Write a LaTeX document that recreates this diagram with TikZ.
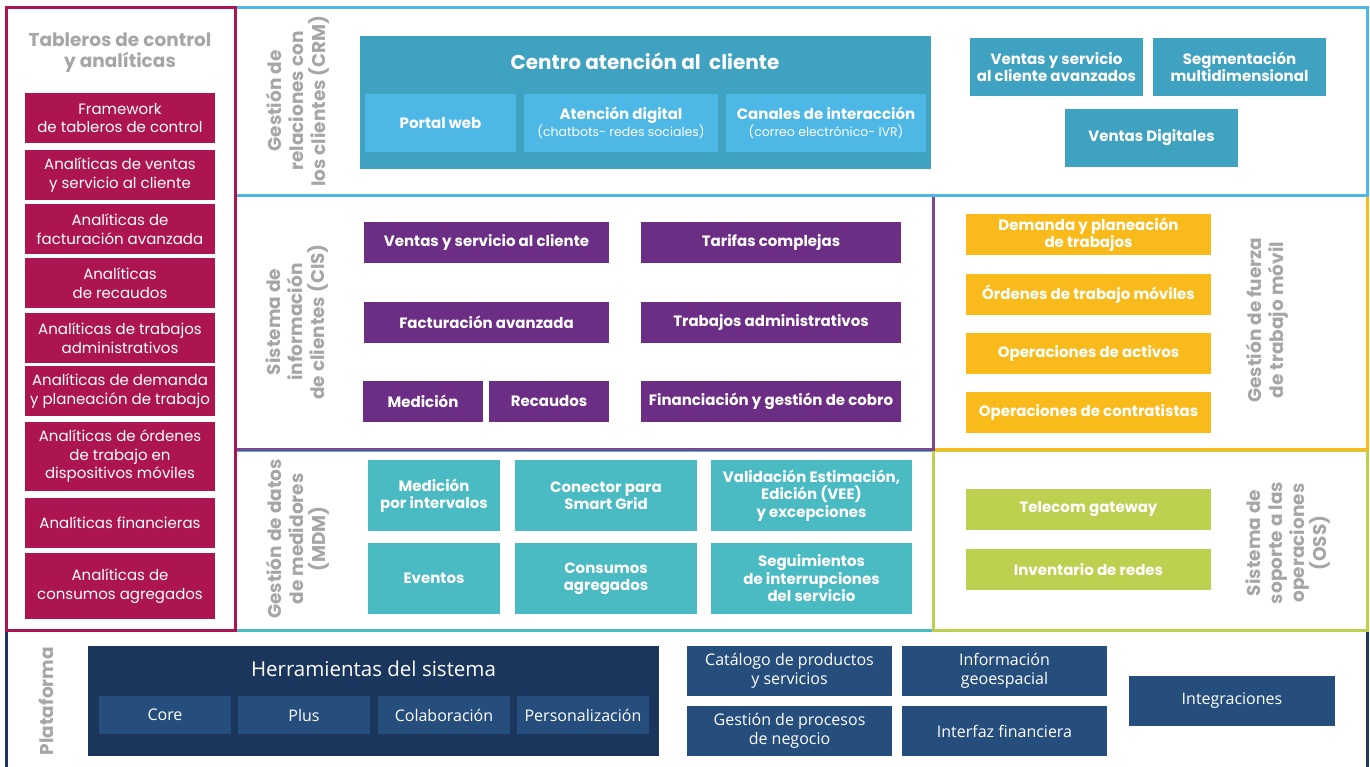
\documentclass[tikz,border=0pt]{standalone}
\usepackage{fontspec}
\setmainfont{Poppins}
\newfontfamily\platfont{Open Sans}
\definecolor{mag}{HTML}{AD1452}
\definecolor{lblgray}{HTML}{A6A6A6}
\definecolor{crmline}{HTML}{4DB8E6}
\definecolor{crmdark}{HTML}{3FA2C0}
\definecolor{crmlight}{HTML}{4DB8E6}
\definecolor{cisline}{HTML}{7B4595}
\definecolor{cisbox}{HTML}{6C2D84}
\definecolor{yel}{HTML}{F9BA1B}
\definecolor{teal}{HTML}{4ABBC3}
\definecolor{grn}{HTML}{BDD04F}
\definecolor{navyline}{HTML}{1C3860}
\definecolor{navydark}{HTML}{1B365D}
\definecolor{navybox}{HTML}{254E7C}
\tikzset{
  base/.style={inner sep=0pt, outer sep=0pt, align=center, text=white},
  magbox/.style={base, fill=mag, font=\fontsize{15}{18.5}\selectfont},
  bbold/.style={base, font=\fontsize{15}{17.5}\selectfont\bfseries},
  crmbox/.style={bbold, fill=crmdark},
  crmsub/.style={bbold, fill=crmlight},
  cisb/.style={bbold, fill=cisbox},
  yelb/.style={bbold, fill=yel},
  tealb/.style={bbold, fill=teal},
  grnb/.style={bbold, fill=grn},
  navyb/.style={base, fill=navybox, font=\platfont\fontsize{16}{19}\selectfont},
  sidelbl/.style={inner sep=0pt, align=center, text=lblgray, rotate=90, font=\fontsize{18.5}{22}\selectfont\bfseries},
  panel/.style={line width=3pt},
}
\newcommand\mybox[7]{\node[#1, minimum width={(#5-#3)*1pt}, minimum height={(#6-#4)*1pt}] (#2) at ({(#3+#5)/2},{(#4+#6)/2}) {#7};}
\begin{document}
\begin{tikzpicture}[x=1pt,y=-1pt]
\useasboundingbox[fill=white] (0,0) rectangle (1370,767);
% panels
\draw[panel, navyline] (6,631) -- (6,770);
\draw[panel, navyline] (1367,631) -- (1367,770);
\draw[panel, teal] (235,450) rectangle (933,630);
\draw[panel, grn] (933,450) rectangle (1367,630);
\draw[panel, yel] (933,196) rectangle (1367,449);
\draw[panel, cisline] (235,196) rectangle (933,449);
\draw[panel, crmline] (235,8) rectangle (1367,196);
\draw[panel, mag] (6,8) rectangle (235,630);

% left panel
\node[inner sep=0pt, align=center, text=lblgray, font=\fontsize{18.5}{21.5}\selectfont\bfseries] (tabt) at (120,52.5) {Tableros de control\\y analíticas};
\mybox{magbox}{a1}{25}{93}{215}{143}{Framework\\de tableros de control}
\mybox{magbox}{a2}{25}{150}{215}{200}{Analíticas de ventas\\y servicio al cliente}
\mybox{magbox}{a3}{25}{204}{215}{254}{Analíticas de\\facturación avanzada}
\mybox{magbox}{a4}{25}{258}{215}{308}{Analíticas\\de recaudos}
\mybox{magbox}{a5}{25}{313}{215}{363}{Analíticas de trabajos\\administrativos}
\mybox{magbox}{a6}{25}{366}{215}{416}{Analíticas de demanda\\y planeación de trabajo}
\mybox{magbox}{a7}{25}{422}{215}{491}{Analíticas de órdenes\\de trabajo en\\dispositivos móviles}
\mybox{magbox}{a8}{25}{498}{215}{548}{Analíticas financieras}
\mybox{magbox}{a9}{25}{553}{215}{619}{Analíticas de\\consumos agregados}

% CRM
\node[sidelbl] (crml) at (298,101) {Gestión de\\relaciones con\\los clientes (CRM)};
\mybox{crmbox}{cac}{360}{36}{931}{169}{}
\node[base, font=\fontsize{20}{22}\selectfont\bfseries] (cact) at (645,61) {Centro atención al\ \ cliente};
\mybox{crmsub}{pw}{365}{94}{516}{152}{Portal web}
\mybox{crmsub}{ad}{524}{94}{718}{152}{Atención digital\\{\fontsize{12.5}{16}\selectfont\mdseries (chatbots- redes sociales)}}
\mybox{crmsub}{ci}{726}{94}{926}{152}{Canales de interacción\\{\fontsize{12.5}{16}\selectfont\mdseries (correo electrónico- IVR)}}
\mybox{crmbox}{vsa}{970}{38}{1143}{96}{Ventas y servicio\\al cliente avanzados}
\mybox{crmbox}{seg}{1153}{38}{1326}{96}{Segmentación\\multidimensional}
\mybox{crmbox}{vd}{1065}{109}{1238}{167}{Ventas Digitales}

% CIS
\node[sidelbl] (cisl) at (297,322) {Sistema de\\información\\de clientes (CIS)};
\mybox{cisb}{c1}{364}{222}{609}{263}{Ventas y servicio al cliente}
\mybox{cisb}{c2}{641}{222}{901}{263}{Tarifas complejas}
\mybox{cisb}{c3}{364}{302}{609}{343}{Facturación avanzada}
\mybox{cisb}{c4}{641}{302}{901}{343}{Trabajos administrativos}
\mybox{cisb}{c5}{363}{381}{483}{422}{Medición}
\mybox{cisb}{c6}{489}{381}{609}{422}{Recaudos}
\mybox{cisb}{c7}{641}{381}{901}{422}{Financiación y gestión de cobro}

% Workforce
\node[sidelbl] (wfl) at (1267,320) {Gestión de fuerza\\de trabajo móvil};
\mybox{yelb}{y1}{966}{214}{1211}{255}{Demanda y planeación\\de trabajos}
\mybox{yelb}{y2}{966}{274}{1211}{315}{Órdenes de trabajo móviles}
\mybox{yelb}{y3}{966}{333}{1211}{374}{Operaciones de activos}
\mybox{yelb}{y4}{966}{392}{1211}{433}{Operaciones de contratistas}

% MDM
\node[sidelbl] (mdml) at (298,539) {Gestión de datos\\de medidores\\(MDM)};
\mybox{tealb}{m1}{368}{460}{500}{531}{Medición\\por intervalos}
\mybox{tealb}{m2}{515}{460}{697}{531}{Conector para\\Smart Grid}
\mybox{tealb}{m3}{711}{460}{912}{531}{Validación Estimación,\\Edición (VEE)\\y excepciones}
\mybox{tealb}{m4}{368}{543}{500}{614}{Eventos}
\mybox{tealb}{m5}{515}{543}{697}{614}{Consumos\\agregados}
\mybox{tealb}{m6}{711}{543}{912}{614}{Seguimientos\\de interrupciones\\del servicio}

% OSS
\node[sidelbl] (ossl) at (1288,543) {Sistema de\\soporte a las\\operaciones\\(OSS)};
\mybox{grnb}{o1}{966}{489}{1211}{530}{Telecom gateway}
\mybox{grnb}{o2}{966}{549}{1211}{590}{Inventario de redes}

% Plataforma
\node[sidelbl] (platl) at (46,701) {Plataforma};
\mybox{base, fill=navydark}{herr}{88}{646}{659}{756}{}
\node[base, font=\platfont\fontsize{20.5}{23}\selectfont] (herrt) at (373.5,669) {Herramientas del sistema};
\mybox{navyb}{p1}{99}{696}{231}{734}{Core}
\mybox{navyb}{p2}{238}{696}{370}{734}{Plus}
\mybox{navyb}{p3}{378}{696}{510}{734}{Colaboración}
\mybox{navyb}{p4}{517}{696}{649}{734}{Personalización}
\mybox{navyb}{q1}{687}{646}{892}{696}{Catálogo de productos\\y servicios}
\mybox{navyb}{q2}{902}{646}{1107}{696}{Información\\geoespacial}
\mybox{navyb}{q3}{687}{706}{892}{756}{Gestión de procesos\\de negocio}
\mybox{navyb}{q4}{902}{706}{1107}{756}{Interfaz financiera}
\mybox{navyb}{q5}{1129}{676}{1335}{726}{Integraciones}
\end{tikzpicture}
\end{document}
